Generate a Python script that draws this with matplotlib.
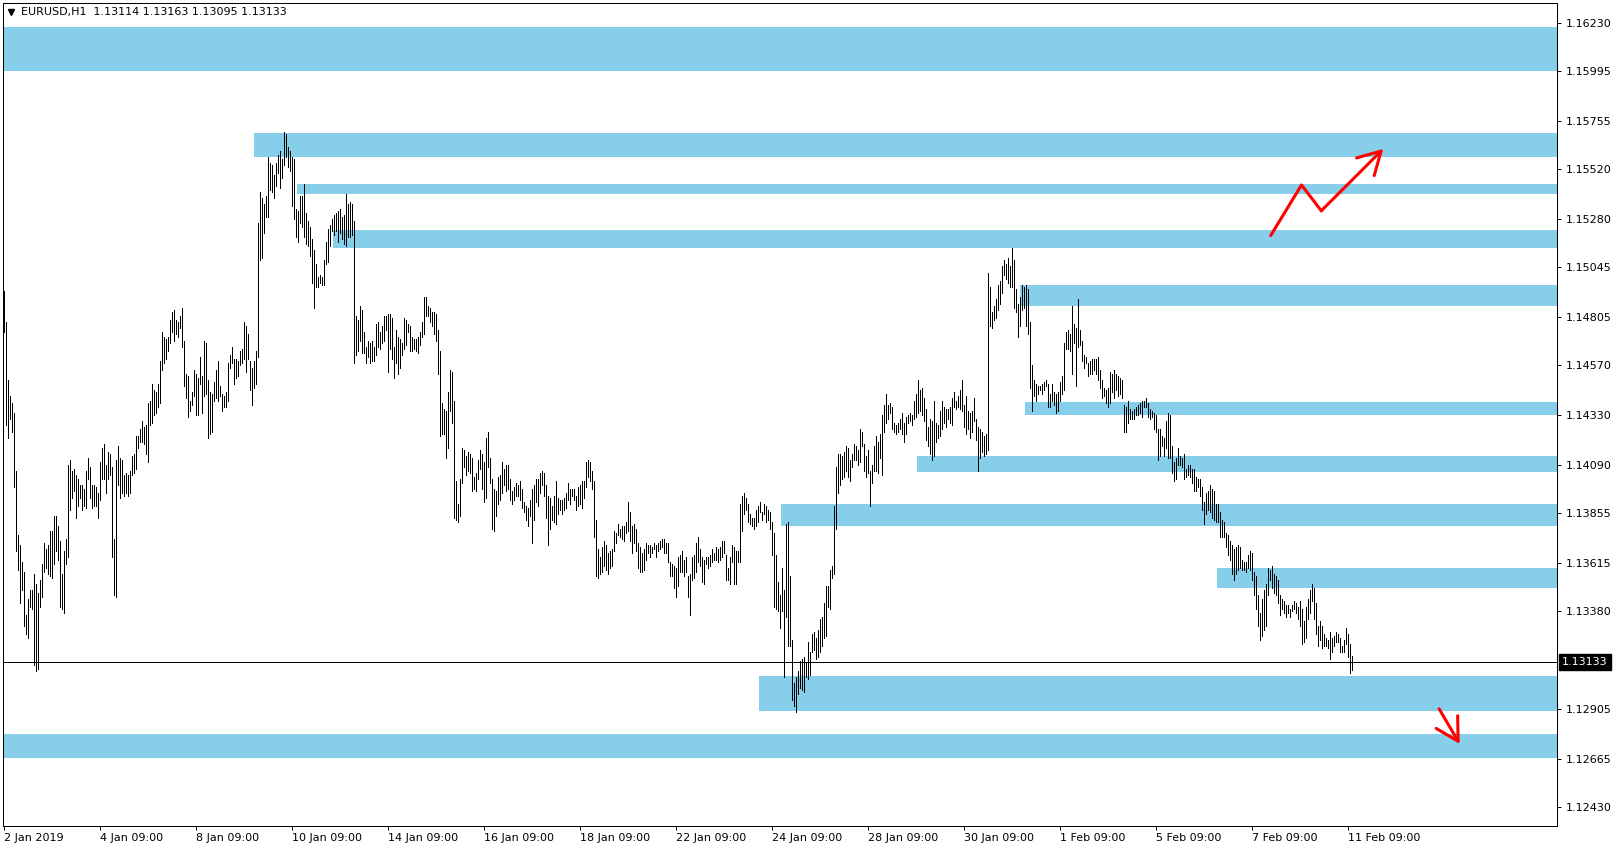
import matplotlib
matplotlib.use("Agg")
import matplotlib.pyplot as plt
from matplotlib.lines import Line2D

# EURUSD H1, one bar per hour from 2 Jan 2019 09:00 to 11 Feb 2019 11:00
highs = [
    1.1493, 1.1478, 1.1450, 1.1442, 1.1439, 1.1434, 1.1406, 1.1375, 1.1370, 1.1362, 1.1357, 1.1336, 1.1344, 1.1348, 1.1348,
    1.1356, 1.1351, 1.1347, 1.1353, 1.1361, 1.1371, 1.1368, 1.1370, 1.1377, 1.1377, 1.1384, 1.1384, 1.1379, 1.1372, 1.1356,
    1.1367, 1.1373, 1.1409, 1.1411, 1.1406, 1.1407, 1.1404, 1.1402, 1.1399, 1.1399, 1.1397, 1.1406, 1.1412, 1.1408, 1.1399,
    1.1399, 1.1398, 1.1395, 1.1410, 1.1417, 1.1419, 1.1409, 1.1415, 1.1414, 1.1408, 1.1373, 1.1411, 1.1418, 1.1412, 1.1411,
    1.1404, 1.1405, 1.1404, 1.1406, 1.1413, 1.1414, 1.1423, 1.1423, 1.1426, 1.1430, 1.1427, 1.1428, 1.1439, 1.1440, 1.1448,
    1.1445, 1.1444, 1.1448, 1.1459, 1.1473, 1.1471, 1.1470, 1.1471, 1.1479, 1.1483, 1.1484, 1.1479, 1.1478, 1.1481, 1.1485,
    1.1469, 1.1453, 1.1452, 1.1440, 1.1444, 1.1455, 1.1453, 1.1451, 1.1461, 1.1452, 1.1469, 1.1468, 1.1450, 1.1444, 1.1443,
    1.1449, 1.1455, 1.1459, 1.1447, 1.1443, 1.1442, 1.1444, 1.1458, 1.1462, 1.1466, 1.1460, 1.1460, 1.1459, 1.1464, 1.1465,
    1.1478, 1.1476, 1.1472, 1.1459, 1.1456, 1.1459, 1.1464, 1.1526, 1.1541, 1.1538, 1.1535, 1.1539, 1.1558, 1.1555, 1.1554,
    1.1549, 1.1555, 1.1559, 1.1561, 1.1557, 1.1570, 1.1569, 1.1563, 1.1561, 1.1558, 1.1557, 1.1533, 1.1532, 1.1539, 1.1539,
    1.1545, 1.1531, 1.1527, 1.1524, 1.1518, 1.1513, 1.1506, 1.1500, 1.1501, 1.1500, 1.1508, 1.1517, 1.1523, 1.1525, 1.1528,
    1.1530, 1.1531, 1.1532, 1.1533, 1.1529, 1.1530, 1.1540, 1.1535, 1.1536, 1.1535, 1.1527, 1.1481, 1.1479, 1.1486, 1.1484,
    1.1473, 1.1466, 1.1469, 1.1468, 1.1469, 1.1466, 1.1477, 1.1478, 1.1473, 1.1476, 1.1481, 1.1481, 1.1482, 1.1482, 1.1480,
    1.1466, 1.1474, 1.1471, 1.1470, 1.1468, 1.1480, 1.1479, 1.1477, 1.1476, 1.1471, 1.1470, 1.1470, 1.1471, 1.1473, 1.1478,
    1.1490, 1.1490, 1.1486, 1.1485, 1.1483, 1.1483, 1.1482, 1.1474, 1.1464, 1.1439, 1.1436, 1.1435, 1.1444, 1.1455, 1.1454,
    1.1440, 1.1401, 1.1390, 1.1402, 1.1417, 1.1416, 1.1413, 1.1415, 1.1414, 1.1412, 1.1403, 1.1405, 1.1411, 1.1416, 1.1414,
    1.1410, 1.1422, 1.1425, 1.1412, 1.1402, 1.1397, 1.1396, 1.1403, 1.1404, 1.1410, 1.1407, 1.1409, 1.1409, 1.1402, 1.1396,
    1.1398, 1.1400, 1.1399, 1.1401, 1.1397, 1.1391, 1.1389, 1.1388, 1.1392, 1.1397, 1.1399, 1.1402, 1.1402, 1.1405, 1.1406,
    1.1405, 1.1399, 1.1394, 1.1393, 1.1389, 1.1394, 1.1401, 1.1393, 1.1392, 1.1392, 1.1393, 1.1395, 1.1400, 1.1397, 1.1397,
    1.1397, 1.1394, 1.1398, 1.1399, 1.1401, 1.1401, 1.1410, 1.1411, 1.1410, 1.1406, 1.1401, 1.1382, 1.1368, 1.1364, 1.1369,
    1.1372, 1.1370, 1.1366, 1.1367, 1.1368, 1.1377, 1.1376, 1.1380, 1.1378, 1.1379, 1.1379, 1.1381, 1.1391, 1.1386, 1.1379,
    1.1380, 1.1378, 1.1371, 1.1369, 1.1366, 1.1368, 1.1371, 1.1370, 1.1370, 1.1369, 1.1371, 1.1370, 1.1371, 1.1372, 1.1373,
    1.1373, 1.1371, 1.1371, 1.1362, 1.1361, 1.1360, 1.1359, 1.1364, 1.1365, 1.1367, 1.1363, 1.1364, 1.1355, 1.1356, 1.1364,
    1.1365, 1.1371, 1.1374, 1.1368, 1.1364, 1.1363, 1.1364, 1.1364, 1.1365, 1.1368, 1.1366, 1.1369, 1.1368, 1.1369, 1.1372,
    1.1372, 1.1365, 1.1359, 1.1364, 1.1370, 1.1369, 1.1367, 1.1367, 1.1390, 1.1394, 1.1395, 1.1393, 1.1390, 1.1385, 1.1383,
    1.1383, 1.1387, 1.1389, 1.1391, 1.1386, 1.1390, 1.1389, 1.1387, 1.1386, 1.1381, 1.1376, 1.1365, 1.1352, 1.1346, 1.1359,
    1.1348, 1.1380, 1.1381, 1.1355, 1.1324, 1.1303, 1.1306, 1.1309, 1.1314, 1.1315, 1.1316, 1.1313, 1.1323, 1.1318, 1.1327,
    1.1328, 1.1325, 1.1329, 1.1334, 1.1335, 1.1342, 1.1350, 1.1350, 1.1358, 1.1360, 1.1389, 1.1408, 1.1414, 1.1414, 1.1413,
    1.1415, 1.1418, 1.1417, 1.1411, 1.1414, 1.1419, 1.1418, 1.1416, 1.1426, 1.1425, 1.1419, 1.1413, 1.1416, 1.1406, 1.1409,
    1.1418, 1.1423, 1.1420, 1.1424, 1.1433, 1.1438, 1.1443, 1.1438, 1.1439, 1.1437, 1.1429, 1.1428, 1.1429, 1.1431, 1.1434,
    1.1429, 1.1432, 1.1433, 1.1434, 1.1433, 1.1440, 1.1443, 1.1450, 1.1445, 1.1446, 1.1441, 1.1436, 1.1427, 1.1431, 1.1430,
    1.1440, 1.1429, 1.1428, 1.1435, 1.1440, 1.1437, 1.1436, 1.1436, 1.1437, 1.1441, 1.1444, 1.1440, 1.1442, 1.1445, 1.1450,
    1.1438, 1.1442, 1.1435, 1.1434, 1.1435, 1.1441, 1.1431, 1.1427, 1.1426, 1.1425, 1.1423, 1.1424, 1.1502, 1.1495, 1.1483,
    1.1486, 1.1489, 1.1496, 1.1498, 1.1505, 1.1508, 1.1506, 1.1509, 1.1505, 1.1514, 1.1508, 1.1494, 1.1487, 1.1490, 1.1496,
    1.1495, 1.1496, 1.1494, 1.1478, 1.1457, 1.1450, 1.1448, 1.1447, 1.1447, 1.1448, 1.1449, 1.1450, 1.1448, 1.1443, 1.1448,
    1.1444, 1.1443, 1.1444, 1.1449, 1.1452, 1.1468, 1.1473, 1.1474, 1.1472, 1.1486, 1.1477, 1.1475, 1.1489, 1.1474, 1.1469,
    1.1462, 1.1461, 1.1458, 1.1459, 1.1460, 1.1460, 1.1460, 1.1461, 1.1455, 1.1450, 1.1446, 1.1445, 1.1446, 1.1454, 1.1453,
    1.1455, 1.1453, 1.1452, 1.1451, 1.1450, 1.1438, 1.1437, 1.1440, 1.1436, 1.1435, 1.1436, 1.1437, 1.1438, 1.1439, 1.1440,
    1.1440, 1.1441, 1.1439, 1.1436, 1.1435, 1.1434, 1.1433, 1.1426, 1.1426, 1.1423, 1.1422, 1.1430, 1.1434, 1.1433, 1.1418,
    1.1410, 1.1412, 1.1417, 1.1413, 1.1412, 1.1414, 1.1407, 1.1409, 1.1409, 1.1407, 1.1407, 1.1403, 1.1402, 1.1402, 1.1398,
    1.1391, 1.1395, 1.1396, 1.1399, 1.1397, 1.1396, 1.1390, 1.1390, 1.1386, 1.1382, 1.1381, 1.1376, 1.1375, 1.1372, 1.1370,
    1.1368, 1.1369, 1.1370, 1.1369, 1.1363, 1.1362, 1.1362, 1.1365, 1.1367, 1.1366, 1.1357, 1.1355, 1.1346, 1.1337, 1.1344,
    1.1348, 1.1351, 1.1359, 1.1358, 1.1360, 1.1356, 1.1355, 1.1353, 1.1346, 1.1344, 1.1343, 1.1341, 1.1341, 1.1339, 1.1341,
    1.1343, 1.1342, 1.1340, 1.1343, 1.1339, 1.1333, 1.1340, 1.1344, 1.1348, 1.1351, 1.1349, 1.1342, 1.1331, 1.1333, 1.1331,
    1.1327, 1.1325, 1.1324, 1.1328, 1.1325, 1.1326, 1.1328, 1.1327, 1.1325, 1.1321, 1.1324, 1.1330, 1.1327, 1.1322, 1.13163,
]
lows = [
    1.1473, 1.1428, 1.1422, 1.1431, 1.1425, 1.1398, 1.1367, 1.1358, 1.1342, 1.1348, 1.1331, 1.1327, 1.1325, 1.1340, 1.1339,
    1.1312, 1.1309, 1.1310, 1.1340, 1.1345, 1.1357, 1.1359, 1.1356, 1.1355, 1.1354, 1.1361, 1.1367, 1.1363, 1.1340, 1.1339,
    1.1337, 1.1361, 1.1364, 1.1387, 1.1393, 1.1396, 1.1383, 1.1389, 1.1393, 1.1387, 1.1389, 1.1388, 1.1402, 1.1393, 1.1388,
    1.1389, 1.1389, 1.1383, 1.1392, 1.1402, 1.1402, 1.1395, 1.1402, 1.1404, 1.1364, 1.1346, 1.1345, 1.1399, 1.1393, 1.1395,
    1.1394, 1.1395, 1.1394, 1.1395, 1.1404, 1.1405, 1.1407, 1.1417, 1.1420, 1.1420, 1.1419, 1.1414, 1.1410, 1.1428, 1.1429,
    1.1433, 1.1434, 1.1437, 1.1439, 1.1455, 1.1458, 1.1460, 1.1464, 1.1468, 1.1473, 1.1469, 1.1472, 1.1471, 1.1475, 1.1466,
    1.1447, 1.1441, 1.1432, 1.1435, 1.1438, 1.1442, 1.1433, 1.1433, 1.1448, 1.1434, 1.1442, 1.1443, 1.1422, 1.1424, 1.1425,
    1.1440, 1.1441, 1.1440, 1.1442, 1.1435, 1.1437, 1.1437, 1.1440, 1.1456, 1.1458, 1.1448, 1.1451, 1.1452, 1.1457, 1.1458,
    1.1460, 1.1454, 1.1460, 1.1445, 1.1438, 1.1446, 1.1448, 1.1461, 1.1508, 1.1509, 1.1521, 1.1529, 1.1529, 1.1542, 1.1541,
    1.1538, 1.1544, 1.1550, 1.1543, 1.1548, 1.1554, 1.1558, 1.1553, 1.1551, 1.1534, 1.1528, 1.1519, 1.1517, 1.1526, 1.1524,
    1.1519, 1.1516, 1.1515, 1.1510, 1.1497, 1.1485, 1.1495, 1.1495, 1.1497, 1.1496, 1.1496, 1.1506, 1.1507, 1.1515, 1.1522,
    1.1520, 1.1522, 1.1517, 1.1521, 1.1518, 1.1516, 1.1515, 1.1519, 1.1519, 1.1520, 1.1458, 1.1462, 1.1464, 1.1469, 1.1463,
    1.1463, 1.1458, 1.1461, 1.1458, 1.1459, 1.1459, 1.1462, 1.1466, 1.1465, 1.1468, 1.1469, 1.1474, 1.1454, 1.1465, 1.1460,
    1.1451, 1.1458, 1.1453, 1.1456, 1.1462, 1.1465, 1.1467, 1.1473, 1.1464, 1.1464, 1.1465, 1.1464, 1.1463, 1.1467, 1.1471,
    1.1472, 1.1481, 1.1481, 1.1478, 1.1476, 1.1472, 1.1469, 1.1453, 1.1423, 1.1424, 1.1424, 1.1412, 1.1417, 1.1435, 1.1429,
    1.1383, 1.1382, 1.1381, 1.1384, 1.1400, 1.1408, 1.1404, 1.1406, 1.1405, 1.1396, 1.1397, 1.1396, 1.1402, 1.1407, 1.1397,
    1.1391, 1.1393, 1.1408, 1.1400, 1.1378, 1.1377, 1.1384, 1.1390, 1.1392, 1.1395, 1.1399, 1.1396, 1.1397, 1.1392, 1.1390,
    1.1392, 1.1394, 1.1394, 1.1392, 1.1388, 1.1386, 1.1382, 1.1379, 1.1384, 1.1371, 1.1382, 1.1391, 1.1389, 1.1395, 1.1399,
    1.1394, 1.1383, 1.1370, 1.1378, 1.1382, 1.1381, 1.1380, 1.1385, 1.1387, 1.1385, 1.1387, 1.1388, 1.1392, 1.1390, 1.1394,
    1.1392, 1.1387, 1.1389, 1.1390, 1.1388, 1.1393, 1.1398, 1.1403, 1.1401, 1.1397, 1.1374, 1.1355, 1.1354, 1.1356, 1.1357,
    1.1360, 1.1358, 1.1356, 1.1359, 1.1360, 1.1367, 1.1371, 1.1375, 1.1374, 1.1373, 1.1372, 1.1376, 1.1377, 1.1372, 1.1366,
    1.1371, 1.1367, 1.1359, 1.1357, 1.1357, 1.1358, 1.1363, 1.1366, 1.1364, 1.1366, 1.1368, 1.1364, 1.1367, 1.1368, 1.1369,
    1.1366, 1.1366, 1.1362, 1.1355, 1.1355, 1.1349, 1.1345, 1.1350, 1.1357, 1.1357, 1.1355, 1.1357, 1.1345, 1.1336, 1.1353,
    1.1354, 1.1357, 1.1362, 1.1360, 1.1352, 1.1351, 1.1361, 1.1359, 1.1360, 1.1362, 1.1363, 1.1363, 1.1362, 1.1363, 1.1364,
    1.1366, 1.1353, 1.1353, 1.1351, 1.1362, 1.1351, 1.1351, 1.1362, 1.1362, 1.1377, 1.1385, 1.1387, 1.1381, 1.1380, 1.1379,
    1.1378, 1.1379, 1.1381, 1.1386, 1.1382, 1.1385, 1.1381, 1.1382, 1.1378, 1.1365, 1.1340, 1.1339, 1.1338, 1.1330, 1.1338,
    1.1306, 1.1335, 1.1321, 1.1321, 1.1295, 1.1292, 1.1289, 1.1298, 1.1301, 1.1300, 1.1299, 1.1306, 1.1305, 1.1307, 1.1318,
    1.1319, 1.1315, 1.1316, 1.1318, 1.1321, 1.1325, 1.1326, 1.1340, 1.1339, 1.1354, 1.1356, 1.1378, 1.1395, 1.1399, 1.1402,
    1.1403, 1.1406, 1.1403, 1.1401, 1.1408, 1.1411, 1.1411, 1.1409, 1.1410, 1.1418, 1.1406, 1.1403, 1.1405, 1.1389, 1.1400,
    1.1406, 1.1406, 1.1405, 1.1412, 1.1404, 1.1425, 1.1429, 1.1431, 1.1434, 1.1426, 1.1425, 1.1424, 1.1425, 1.1426, 1.1424,
    1.1420, 1.1424, 1.1429, 1.1430, 1.1428, 1.1431, 1.1432, 1.1434, 1.1435, 1.1433, 1.1430, 1.1421, 1.1418, 1.1414, 1.1411,
    1.1413, 1.1420, 1.1422, 1.1423, 1.1426, 1.1429, 1.1427, 1.1431, 1.1429, 1.1428, 1.1437, 1.1436, 1.1437, 1.1436, 1.1435,
    1.1427, 1.1424, 1.1426, 1.1422, 1.1425, 1.1430, 1.1421, 1.1406, 1.1412, 1.1415, 1.1413, 1.1414, 1.1416, 1.1476, 1.1475,
    1.1479, 1.1480, 1.1484, 1.1487, 1.1492, 1.1501, 1.1499, 1.1497, 1.1495, 1.1495, 1.1485, 1.1483, 1.1471, 1.1476, 1.1484,
    1.1485, 1.1476, 1.1472, 1.1446, 1.1435, 1.1442, 1.1440, 1.1443, 1.1445, 1.1443, 1.1445, 1.1447, 1.1437, 1.1437, 1.1440,
    1.1438, 1.1434, 1.1435, 1.1440, 1.1443, 1.1445, 1.1465, 1.1465, 1.1464, 1.1453, 1.1468, 1.1447, 1.1466, 1.1467, 1.1459,
    1.1456, 1.1458, 1.1452, 1.1453, 1.1453, 1.1455, 1.1453, 1.1450, 1.1446, 1.1441, 1.1442, 1.1439, 1.1437, 1.1439, 1.1444,
    1.1441, 1.1445, 1.1442, 1.1443, 1.1441, 1.1425, 1.1425, 1.1429, 1.1431, 1.1431, 1.1431, 1.1433, 1.1433, 1.1434, 1.1432,
    1.1437, 1.1437, 1.1432, 1.1431, 1.1432, 1.1426, 1.1425, 1.1411, 1.1413, 1.1418, 1.1413, 1.1417, 1.1412, 1.1412, 1.1405,
    1.1401, 1.1402, 1.1409, 1.1409, 1.1408, 1.1402, 1.1403, 1.1404, 1.1403, 1.1400, 1.1396, 1.1396, 1.1398, 1.1394, 1.1387,
    1.1380, 1.1385, 1.1387, 1.1386, 1.1383, 1.1382, 1.1381, 1.1381, 1.1374, 1.1374, 1.1374, 1.1369, 1.1365, 1.1363, 1.1356,
    1.1353, 1.1356, 1.1358, 1.1359, 1.1358, 1.1358, 1.1357, 1.1359, 1.1358, 1.1353, 1.1346, 1.1339, 1.1331, 1.1324, 1.1326,
    1.1329, 1.1331, 1.1346, 1.1353, 1.1349, 1.1347, 1.1346, 1.1342, 1.1336, 1.1339, 1.1337, 1.1335, 1.1337, 1.1335, 1.1338,
    1.1339, 1.1337, 1.1334, 1.1331, 1.1322, 1.1323, 1.1325, 1.1334, 1.1337, 1.1343, 1.1334, 1.1327, 1.1321, 1.1324, 1.1320,
    1.1321, 1.1321, 1.1320, 1.1315, 1.1318, 1.1321, 1.1323, 1.1323, 1.1318, 1.1318, 1.1318, 1.1322, 1.1316, 1.1308, 1.13095,
]

# last bar as shown in the header
last_open, last_high, last_low, last_close = 1.13114, 1.13163, 1.13095, 1.13133

date_labels = ["2 Jan 2019", "4 Jan 09:00", "8 Jan 09:00", "10 Jan 09:00", "14 Jan 09:00",
               "16 Jan 09:00", "18 Jan 09:00", "22 Jan 09:00", "24 Jan 09:00", "28 Jan 09:00",
               "30 Jan 09:00", "1 Feb 09:00", "5 Feb 09:00", "7 Feb 09:00", "11 Feb 09:00"]
bars_per_label = 48

price_ticks = [1.16230, 1.15995, 1.15755, 1.15520, 1.15280, 1.15045, 1.14805, 1.14570,
               1.14330, 1.14090, 1.13855, 1.13615, 1.13380, 1.12905, 1.12665, 1.12430]

# supply / demand rectangles: first bar (None = whole chart), bottom, top
zone_start = [None, 125.25, 146.6, 164.75, 508.25, 510.5, 456.75, 388.5, 606.65, 377.65, None]
zone_low = [1.15998, 1.15578, 1.15402, 1.15140, 1.14859, 1.14332, 1.14055, 1.13794, 1.13494, 1.12898, 1.12670]
zone_high = [1.16211, 1.15697, 1.15450, 1.15228, 1.14960, 1.14393, 1.14133, 1.13900, 1.13589, 1.13067, 1.12785]

# hand-drawn red arrows (bar position, price)
up_arrow_x = [633.6, 649.0, 658.9, 689.9]
up_arrow_y = [1.15199, 1.15444, 1.15319, 1.15619]
down_arrow_x = [717.8, 728.1]
down_arrow_y = [1.12907, 1.12737]

W, H = 1621, 850
fig = plt.figure(figsize=(W / 100, H / 100), dpi=100)
ax = fig.add_axes([3 / W, 24 / H, 1554 / W, 823 / H])
x_lo, x_hi = -0.25, 776.75
ax.set_xlim(x_lo, x_hi)
ax.set_ylim(1.123394, 1.163254)

for start, lo, hi in zip(zone_start, zone_low, zone_high):
    x0 = x_lo if start is None else start
    ax.fill_between([x0, x_hi], lo, hi, color="#87CEEB", lw=0, zorder=1)

ax.axhline(last_close, color="black", lw=0.72, zorder=2)

idx = list(range(len(highs)))
ax.vlines(idx, lows, highs, colors="black", linewidth=0.7, antialiased=False, zorder=3)

ax.plot(up_arrow_x[:-1], up_arrow_y[:-1], color="red", lw=2.2, solid_capstyle="round", zorder=4)
ax.annotate("", xy=(up_arrow_x[-1], up_arrow_y[-1]), xytext=(up_arrow_x[-2], up_arrow_y[-2]),
            arrowprops=dict(arrowstyle="->,head_length=0.8,head_width=0.45", color="red", lw=2.2,
                            mutation_scale=20, shrinkA=0, shrinkB=0), zorder=4)
ax.annotate("", xy=(down_arrow_x[-1], down_arrow_y[-1]), xytext=(down_arrow_x[0], down_arrow_y[0]),
            arrowprops=dict(arrowstyle="->,head_length=0.8,head_width=0.45", color="red", lw=2.2,
                            mutation_scale=20, shrinkA=0, shrinkB=0), zorder=4)

for s in ax.spines.values():
    s.set_linewidth(0.72)
    s.set_color("black")

ax.set_xticks([k * bars_per_label for k in range(len(date_labels))])
ax.set_xticklabels(date_labels)
for lab in ax.get_xticklabels():
    lab.set_horizontalalignment("left")
ax.yaxis.tick_right()
ax.set_yticks(price_ticks)
ax.set_yticklabels(["%.5f" % p for p in price_ticks])
ax.tick_params(axis="both", direction="out", length=3, width=0.72, labelsize=8, colors="black")
ax.tick_params(axis="x", pad=2)
ax.tick_params(axis="y", pad=3)

ax.annotate("%.5f" % last_close, xy=(1, last_close), xycoords=("axes fraction", "data"),
            xytext=(5, 0), textcoords="offset pixels", ha="left", va="center",
            fontsize=8, color="white",
            bbox=dict(boxstyle="square,pad=0.3", fc="black", ec="black"), annotation_clip=False)

fig.add_artist(Line2D([10.5 / W], [1 - 12 / H], marker="v", markersize=5, color="black",
                      transform=fig.transFigure))
fig.text(21 / W, 1 - 12.3 / H, "EURUSD,H1  %.5f %.5f %.5f %.5f" % (last_open, last_high, last_low, last_close),
         fontsize=8, va="center", ha="left", color="black")

fig.savefig("out.png", dpi=100)
